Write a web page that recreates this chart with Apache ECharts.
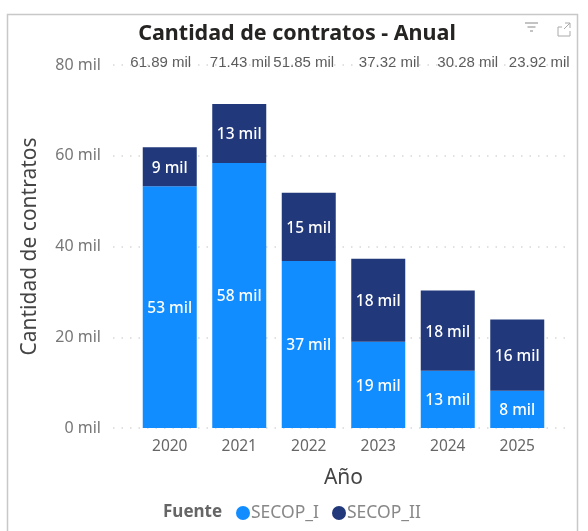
<!DOCTYPE html>
<html><head><meta charset="utf-8">
<style>html,body{margin:0;padding:0;background:#fff}#c{width:588px;height:531px}</style>
<script src="https://cdn.jsdelivr.net/npm/echarts@6/dist/echarts.min.js"></script>
</head><body><div id="c"></div>
<script>
const years = ['2020','2021','2022','2023','2024','2025'];
const secopI = [53300, 58400, 36800, 19000, 12600, 8200];
const secopII = [8590, 13030, 15050, 18320, 17680, 15720];
const totals = ['61.89 mil','71.43 mil','51.85 mil','37.32 mil','30.28 mil','23.92 mil'];
const yTicksMax = 80000;
const totalLabelShift = [-9, 1, -5, 11, 20, 22];
const FONT = '"Noto Sans"';
const chart = echarts.init(document.getElementById('c'), null, {renderer:'canvas'});
const segLabel = {show:true, position:'inside', offset:[0,1.5], color:'#fff', fontFamily:FONT, fontSize:15.5, fontWeight:500,
  formatter:p=>Math.round(p.value/1000)+' mil'};
chart.setOption({
  animation:false,
  title:{text:'Cantidad de contratos - Anual', left:292, top:18, textAlign:'center',
    textStyle:{fontFamily:FONT, fontSize:21.5, fontWeight:'bold', color:'#252423'}},
  legend:{data:['SECOP_I','SECOP_II'], left:231, top:499, icon:'circle', itemWidth:14, itemHeight:14, itemGap:13,
    textStyle:{fontFamily:FONT, fontSize:17.5, color:'#888', padding:[0,0,0,-4]}},
  grid:[
    {left:113, right:18, top:65, bottom:103},
    {left:135, width:417, top:65, bottom:103}
  ],
  xAxis:[
    {gridIndex:0, type:'value', min:0, max:1, show:false},
    {gridIndex:1, type:'category', data:years, axisLine:{show:false}, axisTick:{show:false},
     axisLabel:{fontFamily:FONT, fontSize:15.5, color:'#666', margin:11},
     name:'Año', nameLocation:'middle', nameGap:40,
     nameTextStyle:{fontFamily:FONT, fontSize:21, color:'#444'}}
  ],
  yAxis:[
    {gridIndex:0, type:'value', min:0, max:yTicksMax, interval:20000,
     axisLine:{show:false}, axisTick:{show:false},
     splitLine:{show:true, lineStyle:{color:'#d8d8d8', type:[1.5,7], width:1.5}},
     axisLabel:{fontFamily:FONT, fontSize:16, color:'#777', margin:12, padding:[2,0,0,0], formatter:v=>(v/1000)+' mil'},
     name:'Cantidad de contratos', nameLocation:'middle', nameGap:72,
     nameTextStyle:{fontFamily:FONT, fontSize:21, color:'#444'}},
    {gridIndex:1, type:'value', min:0, max:yTicksMax, interval:20000, show:false, splitLine:{show:false}}
  ],
  series:[
    {name:'SECOP_I', type:'bar', stack:'t', xAxisIndex:1, yAxisIndex:1, barWidth:54, data:secopI,
     itemStyle:{color:'#118DFF'}, label:segLabel},
    {name:'SECOP_II', type:'bar', stack:'t', xAxisIndex:1, yAxisIndex:1, barWidth:54, data:secopII,
     itemStyle:{color:'#21387A'}, label:segLabel},
    {name:'Total', type:'scatter', xAxisIndex:1, yAxisIndex:1, symbolSize:1, clip:false, silent:true,
     itemStyle:{color:'transparent'},
     data:years.map((y,i)=>({value:[y,yTicksMax],
       label:{show:true, position:'inside', offset:[totalLabelShift[i],-2], formatter:totals[i],
         fontFamily:'"Liberation Sans"', fontSize:15, color:'#333'}}))}
  ],
  graphic:[
    {type:'rect', shape:{x:7.5,y:14.5,width:570,height:530}, style:{fill:'none',stroke:'#c8c8c8',lineWidth:1.5}, silent:true},
    {type:'text', x:163, y:504, style:{text:'Fuente', font:'bold 17px "Noto Sans"', fill:'#666'}},
    {type:'group', children:[
      {type:'line', shape:{x1:525,y1:23,x2:538,y2:23}, style:{stroke:'#888',lineWidth:1}},
      {type:'line', shape:{x1:527.5,y1:27,x2:535.5,y2:27}, style:{stroke:'#888',lineWidth:1}},
      {type:'line', shape:{x1:530,y1:31,x2:533,y2:31}, style:{stroke:'#888',lineWidth:1}},
      {type:'polyline', shape:{points:[[558,27],[558,36],[570,36],[570,31]]}, style:{stroke:'#aaa',fill:'none',lineWidth:1}},
      {type:'polyline', shape:{points:[[558,27],[562,27]]}, style:{stroke:'#aaa',fill:'none',lineWidth:1}},
      {type:'polyline', shape:{points:[[565,23],[570,23],[570,28]]}, style:{stroke:'#aaa',fill:'none',lineWidth:1}},
      {type:'line', shape:{x1:570,y1:23,x2:564,y2:29}, style:{stroke:'#aaa',lineWidth:1}}
    ]}
  ]
});
</script></body></html>
